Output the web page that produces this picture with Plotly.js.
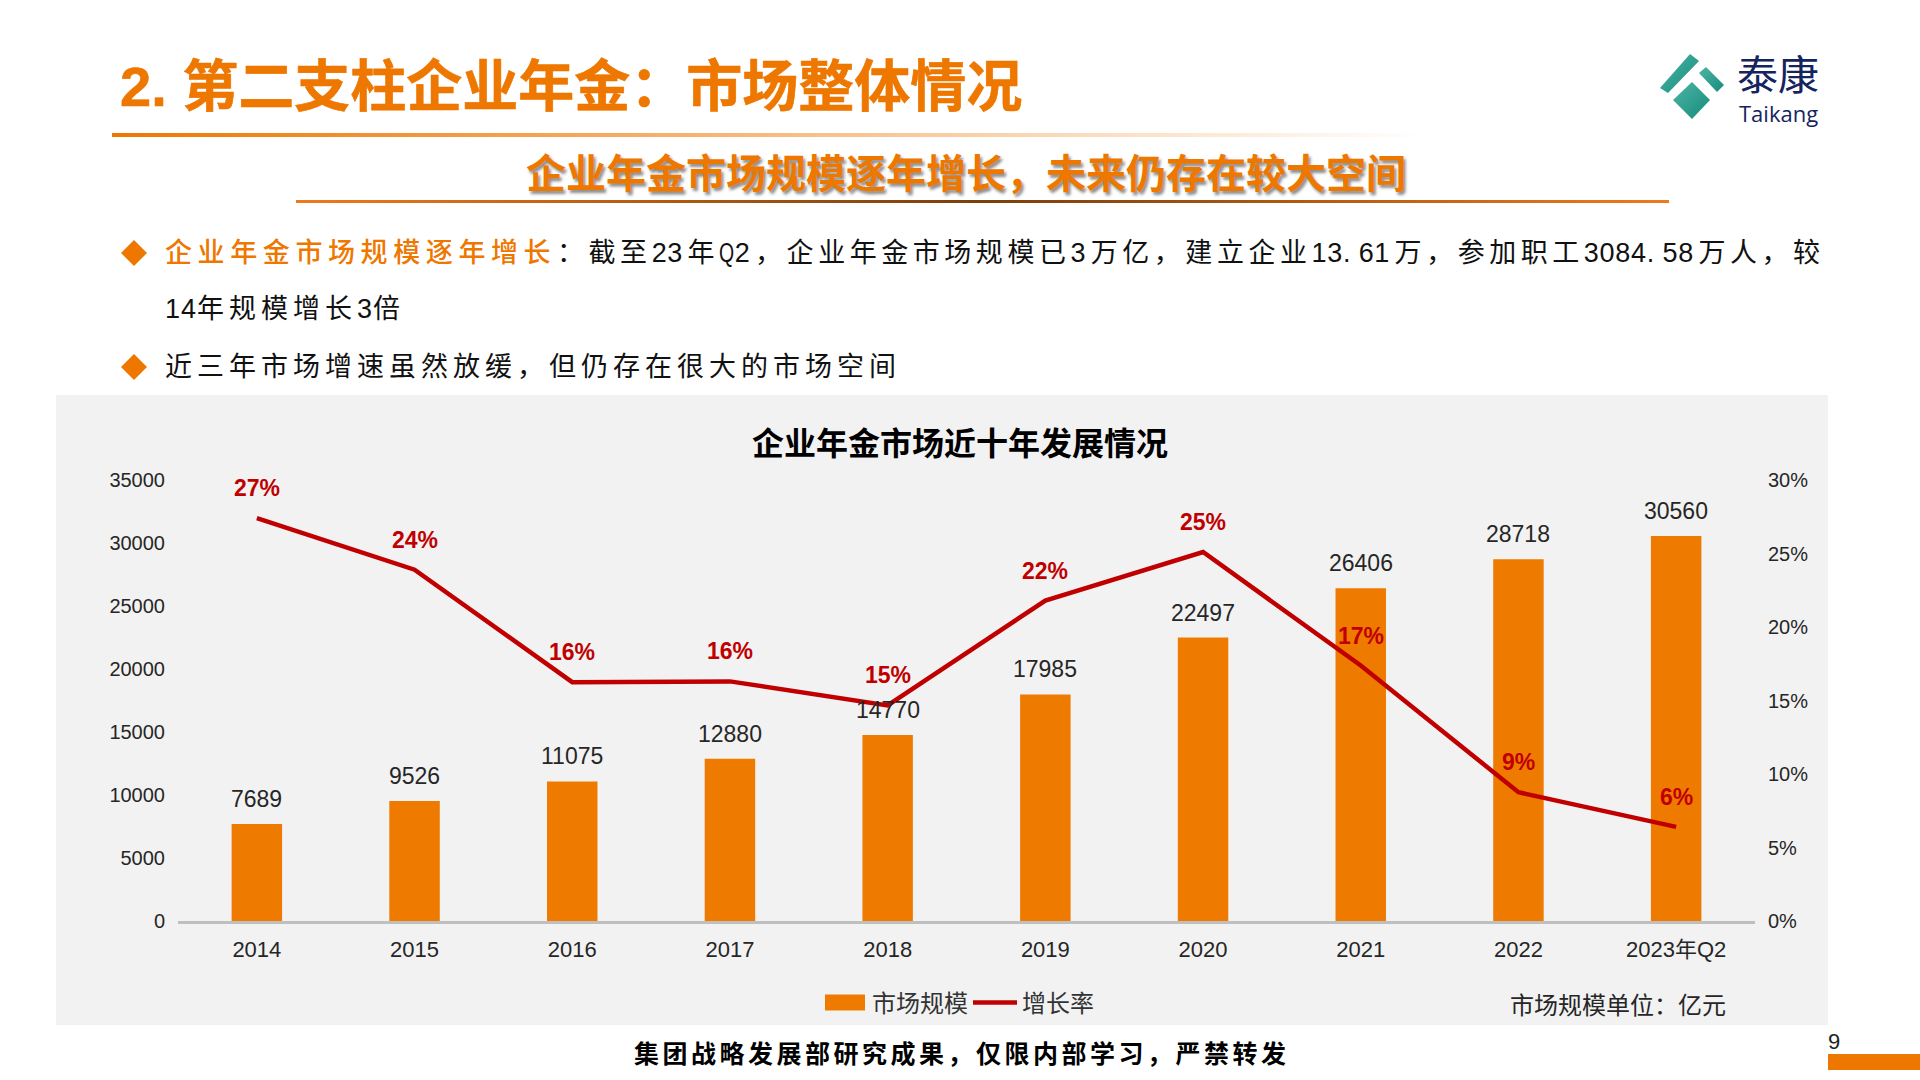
<!DOCTYPE html>
<html lang="zh">
<head>
<meta charset="utf-8">
<title>企业年金市场近十年发展情况</title>
<script src="https://cdn.plot.ly/plotly-3.0.1.min.js"></script>
<style>
html,body{margin:0;padding:0;background:#fff;width:1920px;height:1080px;overflow:hidden}
#slide{position:absolute;left:0;top:0;width:1920px;height:1080px;font-family:"Liberation Sans","Noto Sans CJK SC",sans-serif}
.abs{position:absolute;white-space:nowrap}
#chart{position:absolute;left:0;top:0;width:1920px;height:1080px}
.body{font-size:27px;line-height:36px;color:#111;height:36px}
.sp{letter-spacing:5px}
.d{letter-spacing:1px}
.n{letter-spacing:.7px}
.p{letter-spacing:8.2px}
.q{display:inline-block;width:15.7px;transform:scaleX(.72);transform-origin:left center}
</style>
</head>
<body>
<div id="slide">
  <div class="abs" style="left:120px;top:51px;font-size:56px;line-height:72px;font-weight:700;color:#EE7700;-webkit-text-stroke:.6px #EE7700">2. 第二支柱企业年金：市场整体情况</div>
  <div class="abs" style="left:112px;top:133px;width:1314px;height:4px;background:linear-gradient(90deg,#EE7700,#fff)"></div>
  <div class="abs" style="left:526px;top:148px;font-size:40px;line-height:52px;font-weight:700;color:#EE7700;text-shadow:2px 3px 3px rgba(0,0,0,.45)">企业年金市场规模逐年增长，未来仍存在较大空间</div>
  <div class="abs" style="left:296px;top:200px;width:1373px;height:3px;background:linear-gradient(90deg,#EE7A1E,#7A3F0A 50%,#EE7A1E)"></div>

  <svg class="abs" style="left:120px;top:238px" width="28" height="30"><polygon points="14,2 27,15 14,28 1,15" fill="#EE7700"/></svg>
  <div class="abs body" style="left:165px;top:235px;color:#EE7700;font-weight:500;letter-spacing:5.6px">企业年金市场规模逐年增长</div>
  <div class="abs body" style="left:557px;top:235px;width:1263px;white-space:normal;text-align:justify;text-align-last:justify">：截至<span class="n">23</span>年<span class="q">Q</span><span class="n">2</span>，企业年金市场规模已<span class="n">3</span>万亿，建立企业<span class="n">13</span><span class="p">.</span><span class="n">61</span>万，参加职工<span class="n">3084</span><span class="p">.</span><span class="n">58</span>万人，较</div>
  <div class="abs body sp" style="left:165px;top:291px"><span class="d">14</span>年规模增长<span class="d">3</span>倍</div>
  <svg class="abs" style="left:120px;top:352px" width="28" height="30"><polygon points="14,2 27,15 14,28 1,15" fill="#EE7700"/></svg>
  <div class="abs body sp" style="left:165px;top:349px">近三年市场增速虽然放缓，但仍存在很大的市场空间</div>

  <div class="abs" style="left:56px;top:395px;width:1772px;height:630px;background:#F2F2F2"></div>

  <div class="abs" style="left:634px;top:1036px;font-size:25px;line-height:36px;font-weight:700;color:#000;letter-spacing:3.5px">集团战略发展部研究成果，仅限内部学习，严禁转发</div>
  <div class="abs" style="left:1828px;top:1029px;font-size:22px;line-height:26px;color:#222">9</div>
  <div class="abs" style="left:1828px;top:1054px;width:92px;height:16px;background:#EE7700"></div>

  <svg class="abs" style="left:1650px;top:45px" width="90" height="85" viewBox="1650 45 90 85">
    <defs><linearGradient id="tk" x1="0" y1="0" x2="1" y2="1"><stop offset="0" stop-color="#4DB5A5"/><stop offset="1" stop-color="#168C7C"/></linearGradient></defs>
    <polygon points="1660,88 1690,54 1699,61 1668,93" fill="url(#tk)"/>
    <polygon points="1699,73 1706,67 1724,85 1717,92" fill="url(#tk)"/>
    <polygon points="1692,82 1710,100 1692,119 1673,100" fill="url(#tk)"/>
  </svg>
  <div class="abs" style="left:1737px;top:48px;font-size:41px;line-height:56px;color:#16245E">泰康</div>
  <div class="abs" style="left:1739px;top:99px;font-size:22px;line-height:28px;color:#16245E;font-family:'Open Sans'">Taikang</div>
</div>
<div id="chart"></div>
<script>
var categories = ["2014","2015","2016","2017","2018","2019","2020","2021","2022","2023年Q2"];
var marketSize = [7689,9526,11075,12880,14770,17985,22497,26406,28718,30560];
var growthRate = [27.4,23.9,16.25,16.3,14.67,21.8,25.1,17.38,8.76,6.4];
var growthLabels = ["27%","24%","16%","16%","15%","22%","25%","17%","9%","6%"];
var seriesNames = ["市场规模","增长率"];
var chartTitle = "企业年金市场近十年发展情况";
var unitNote = "市场规模单位：亿元";

var sans = '"Liberation Sans","Noto Sans CJK SC",sans-serif';
var W = 1920, H = 1080;
var plotL = 178, plotR = 1755, plotT = 480, plotB = 921.5;

var traces = [
  {type:"bar", name:seriesNames[0], x:categories, y:marketSize, width:0.32,
   marker:{color:"#EF7A00"}, hoverinfo:"skip"},
  {type:"scatter", mode:"lines", name:seriesNames[1], x:categories, y:growthRate, yaxis:"y2",
   line:{color:"#C00000", width:4.5}, hoverinfo:"skip"}
];

var annotations = [];
categories.forEach(function(c,i){
  annotations.push({x:i, y:marketSize[i], xref:"x", yref:"y", text:String(marketSize[i]),
    showarrow:false, yanchor:"middle", yshift:25, font:{family:sans,size:23,color:"#262626"}});
  annotations.push({x:i, y:growthRate[i], xref:"x", yref:"y2", text:growthLabels[i],
    showarrow:false, yanchor:"middle", yshift:30, font:{family:sans,size:23,color:"#C00000",weight:700}});
});
annotations.push({xref:"paper", yref:"paper",
  x:(1728-plotL)/(plotR-plotL), y:(plotB-1006)/(plotB-plotT), xanchor:"right", yanchor:"middle",
  text:unitNote, showarrow:false, font:{family:sans,size:24,color:"#262626"}});

var layout = {
  width:W, height:H, autosize:false,
  margin:{l:plotL, r:W-plotR, t:plotT, b:H-plotB, pad:0},
  paper_bgcolor:"rgba(0,0,0,0)", plot_bgcolor:"rgba(0,0,0,0)",
  title:{text:chartTitle, x:960/W, xanchor:"center", xref:"container", y:1-444/H, yanchor:"middle", yref:"container",
    font:{family:sans,size:32,color:"#000",weight:700}},
  showlegend:true,
  legend:{orientation:"h", xref:"container", yref:"container", x:818/W, y:1-1003/H, xanchor:"left", yanchor:"middle",
    bgcolor:"rgba(0,0,0,0)", font:{family:sans,size:24,color:"#333"}, itemwidth:44, traceorder:"normal",
    entrywidth:91, entrywidthmode:"pixels"},
  xaxis:{type:"category", categoryorder:"array", categoryarray:categories, range:[-0.5,categories.length-0.5],
    showline:true, linecolor:"#BFBFBF", linewidth:3, showgrid:false, zeroline:false,
    ticks:"outside", ticklen:7, tickcolor:"rgba(0,0,0,0)", tickfont:{family:sans,size:22,color:"#262626"}},
  yaxis:{range:[0,35000], dtick:5000, tick0:0, tickformat:"d", showline:false, showgrid:false, zeroline:false,
    ticks:"outside", ticklen:8, tickcolor:"rgba(0,0,0,0)", tickfont:{family:sans,size:20,color:"#262626"}},
  yaxis2:{overlaying:"y", side:"right", range:[0,30], dtick:5, tick0:0, ticksuffix:"%", showline:false, showgrid:false, zeroline:false,
    ticks:"outside", ticklen:8, tickcolor:"rgba(0,0,0,0)", tickfont:{family:sans,size:20,color:"#262626"}},
  annotations:annotations
};

Plotly.newPlot("chart", traces, layout, {displayModeBar:false, staticPlot:true}).then(function(gd){
  var p = gd.querySelector(".legend .legendbar path") || gd.querySelector(".legend .legendpoints path");
  if (p) p.setAttribute("d","M-20,8V-8H20V8Z");
});
</script>
</body>
</html>
